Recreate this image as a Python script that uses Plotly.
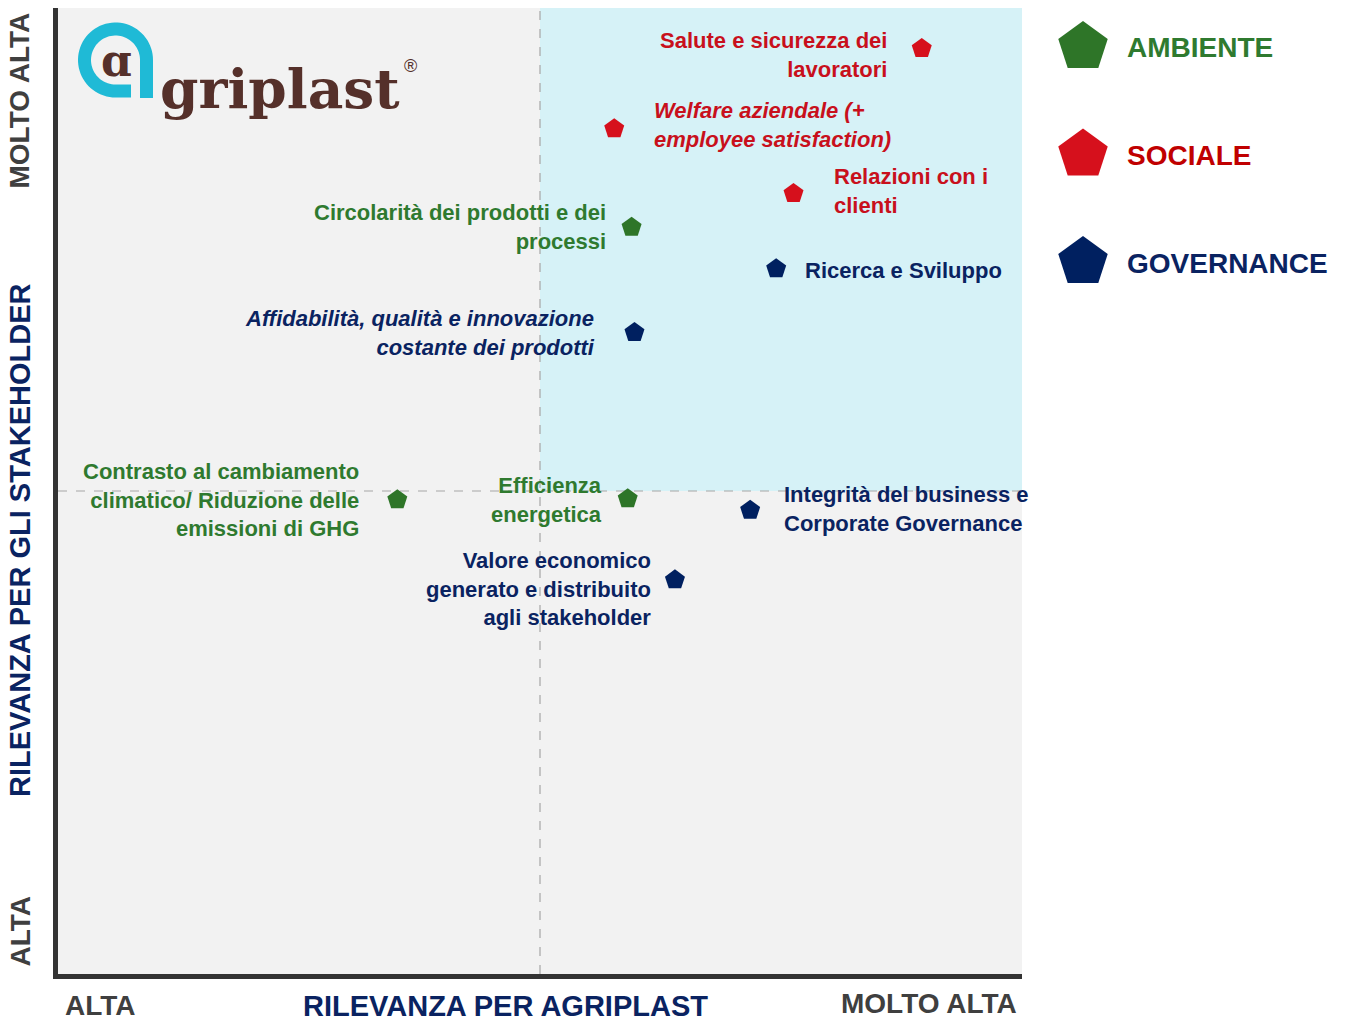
import numpy as np
import plotly.graph_objects as go

W, H = 1351, 1021

# ---------------- data ----------------
topics = [
    "Salute e sicurezza dei<br>lavoratori",
    "<i>Welfare aziendale (+<br>employee satisfaction)</i>",
    "Relazioni con i<br>clienti",
    "Circolarità dei prodotti e dei<br>processi",
    "Ricerca e Sviluppo",
    "<i>Affidabilità, qualità e innovazione<br>costante dei prodotti</i>",
    "Contrasto al cambiamento<br>climatico/ Riduzione delle<br>emissioni di GHG",
    "Efficienza<br>energetica",
    "Integrità del business e<br>Corporate Governance",
    "Valore economico<br>generato e distribuito<br>agli stakeholder",
]
rilevanza_agriplast = [89.6, 57.7, 76.3, 59.5, 74.5, 59.8, 35.2, 59.1, 71.8, 64.0]
rilevanza_stakeholder = [95.8, 87.5, 80.8, 77.3, 73.0, 66.4, 49.1, 49.2, 48.0, 40.8]
area = ["SOCIALE", "SOCIALE", "SOCIALE", "AMBIENTE", "GOVERNANCE", "GOVERNANCE",
        "AMBIENTE", "AMBIENTE", "GOVERNANCE", "GOVERNANCE"]

categories = ["AMBIENTE", "SOCIALE", "GOVERNANCE"]
marker_colors = {"AMBIENTE": "#2e7528", "SOCIALE": "#d6101c", "GOVERNANCE": "#002060"}
text_colors = {"AMBIENTE": "#2f7a2f", "SOCIALE": "#c8101c", "GOVERNANCE": "#0a2361"}
legend_text_colors = {"AMBIENTE": "#2f7a2f", "SOCIALE": "#c00000", "GOVERNANCE": "#0a2361"}

x_ticks = ["ALTA", "MOLTO ALTA"]
y_ticks = ["ALTA", "MOLTO ALTA"]
x_title = "RILEVANZA PER AGRIPLAST"
y_title = "RILEVANZA PER GLI STAKEHOLDER"
threshold = 50

# label placement (pixels relative to marker)
label_style = [
    ("right", -33, -6),
    ("left", 38, 4),
    ("left", 38, 2),
    ("right", -24, 0),
    ("left", 27, -2),
    ("right", -37, 0),
    ("right", -36, 0),
    ("right", -24, -1),
    ("left", 32, 1),
    ("right", -22, -9),
]

# ---------------- figure ----------------
def px(xp):
    return xp / W

def py(yp):
    return 1 - yp / H

X0, X1, Y0, Y1 = 58, 1022, 8, 974

fig = go.Figure()

for cat in categories:
    idx = [i for i, a in enumerate(area) if a == cat]
    fig.add_trace(go.Scatter(
        x=[rilevanza_agriplast[i] for i in idx],
        y=[rilevanza_stakeholder[i] for i in idx],
        mode="markers",
        marker=dict(symbol="pentagon", size=21, color=marker_colors[cat], line=dict(width=0)),
        name=cat, showlegend=False, hoverinfo="skip",
    ))

# legend as separate little axis
fig.add_trace(go.Scatter(
    x=[0] * len(categories), y=categories, mode="markers",
    marker=dict(symbol="pentagon", size=52, color=[marker_colors[c] for c in categories]),
    xaxis="x2", yaxis="y2", showlegend=False, hoverinfo="skip",
))

annotations = []
for i, t in enumerate(topics):
    anchor, dx, dy = label_style[i]
    annotations.append(dict(
        x=rilevanza_agriplast[i], y=rilevanza_stakeholder[i], xref="x", yref="y",
        text=t, showarrow=False, xanchor=anchor, yanchor="middle", align=anchor,
        xshift=dx, yshift=dy,
        font=dict(family="Liberation Sans, Arial", size=22, color=text_colors[area[i]], weight="bold"),
    ))

for c in categories:
    annotations.append(dict(
        x=0, y=c, xref="x2", yref="y2", text=c, showarrow=False,
        xanchor="left", yanchor="middle", xshift=42, yshift=-1,
        font=dict(family="Liberation Sans, Arial", size=28, color=legend_text_colors[c], weight="bold"),
    ))

gray = "#3f3f3f"
navy = "#0a2361"
f_tick = dict(family="Liberation Sans, Arial", size=28, weight="bold")
f_title = dict(family="Liberation Sans, Arial", size=29, weight="bold")
annotations += [
    dict(x=px(100), y=0, xref="paper", yref="paper", text=x_ticks[0], showarrow=False,
         xanchor="center", yanchor="bottom", yshift=-2, font=dict(f_tick, color=gray)),
    dict(x=px(505), y=0, xref="paper", yref="paper", text=x_title, showarrow=False,
         xanchor="center", yanchor="bottom", yshift=-3, font=dict(f_title, color=navy)),
    dict(x=px(929), y=0, xref="paper", yref="paper", text=x_ticks[1], showarrow=False,
         xanchor="center", yanchor="bottom", yshift=0, font=dict(f_tick, color=gray)),
    dict(x=0, y=py(931), xref="paper", yref="paper", text=y_ticks[0], showarrow=False, textangle=-90,
         xanchor="left", yanchor="middle", xshift=2, font=dict(f_tick, color=gray)),
    dict(x=0, y=py(541), xref="paper", yref="paper", text=y_title, showarrow=False, textangle=-90,
         xanchor="left", yanchor="middle", xshift=2, font=dict(f_title, color=navy)),
    dict(x=0, y=py(101), xref="paper", yref="paper", text=y_ticks[1], showarrow=False, textangle=-90,
         xanchor="left", yanchor="middle", xshift=2, font=dict(f_tick, color=gray)),
]

# logo text
brown = "#55302a"
annotations += [
    dict(x=px(158), y=py(88), xref="paper", yref="paper", text="griplast", showarrow=False,
         xanchor="left", yanchor="middle",
         font=dict(family="DejaVu Serif", size=55, color=brown, weight="bold")),
    dict(x=px(116), y=py(61), xref="paper", yref="paper", text="ɑ", showarrow=False,
         xanchor="center", yanchor="middle",
         font=dict(family="DejaVu Serif", size=44, color=brown, weight="bold")),
    dict(x=px(410), y=py(66), xref="paper", yref="paper", text="®", showarrow=False,
         xanchor="center", yanchor="middle",
         font=dict(family="Liberation Sans", size=18, color=brown)),
]

# logo ring path (y measured downward in pixels)
cx, cy, R, r = 115.5, 60.0, 37.5, 24.5
outer = [(cx + R * np.cos(t), cy + R * np.sin(t)) for t in np.linspace(np.pi / 2, 2 * np.pi, 60)]
inner = [(cx + r * np.cos(t), cy + r * np.sin(t)) for t in np.linspace(2 * np.pi, np.pi / 2, 60)]
poly = [(131, cy + R)] + outer + [(cx + R, 98), (cx + r, 98)] + inner + [(131, cy + r)]
path = "M " + " L ".join(f"{px(a):.5f},{py(b):.5f}" for a, b in poly) + " Z"

shapes = [
    dict(type="rect", xref="x", yref="y", x0=0, x1=100, y0=0, y1=100,
         fillcolor="#f2f2f2", line=dict(width=0), layer="below"),
    dict(type="rect", xref="x", yref="y", x0=threshold, x1=100, y0=threshold, y1=100,
         fillcolor="#d6f2f7", line=dict(width=0), layer="below"),
    dict(type="line", xref="x", yref="y", x0=threshold, x1=threshold, y0=0, y1=100,
         line=dict(color="#a6a6a6", width=1.2, dash="dash"), layer="below"),
    dict(type="line", xref="x", yref="y", x0=0, x1=100, y0=threshold, y1=threshold,
         line=dict(color="#a6a6a6", width=1.2, dash="dash"), layer="below"),
    dict(type="path", xref="paper", yref="paper", path=path, fillcolor="#1fbad6",
         line=dict(width=0)),
]

fig.update_layout(
    width=W, height=H,
    margin=dict(l=0, r=0, t=0, b=0),
    paper_bgcolor="white", plot_bgcolor="white",
    xaxis=dict(domain=[px(X0), px(X1)], range=[0, 100], showgrid=False, zeroline=False,
               showticklabels=False, ticks="", showline=True, linewidth=5, linecolor="#333333",
               fixedrange=True),
    yaxis=dict(domain=[py(Y1), py(Y0)], range=[0, 100], showgrid=False, zeroline=False,
               showticklabels=False, ticks="", showline=True, linewidth=5, linecolor="#333333",
               fixedrange=True),
    xaxis2=dict(domain=[px(1040), px(1351)], range=[-43, 268], visible=False, fixedrange=True),
    yaxis2=dict(domain=[py(300), py(0)], range=[2.353, -0.437], visible=False, fixedrange=True,
                type="category"),
    shapes=shapes,
    annotations=annotations,
    showlegend=False,
)

fig.write_html("out.html")
